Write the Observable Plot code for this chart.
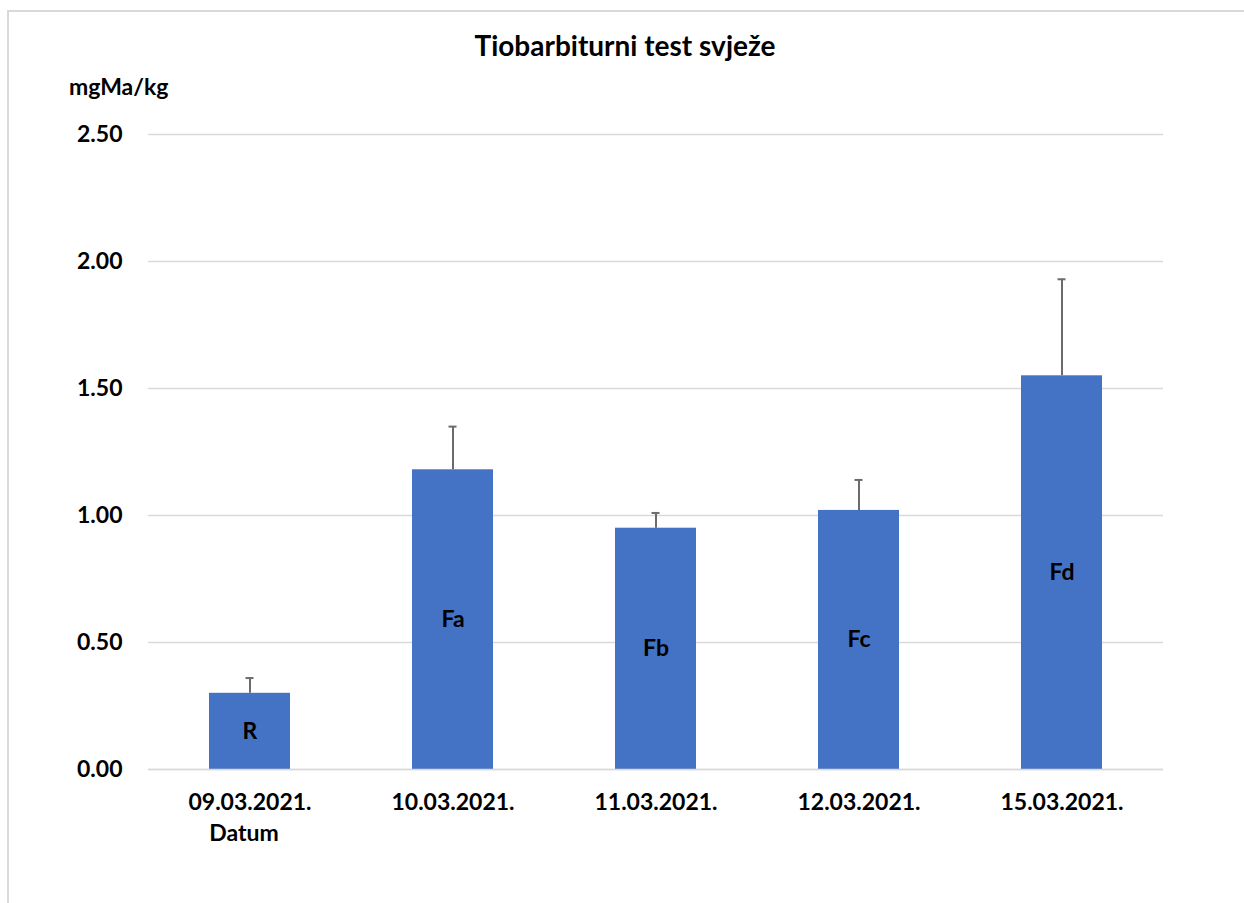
<!DOCTYPE html>
<html>
<head>
<meta charset="utf-8">
<script src="https://cdn.jsdelivr.net/npm/d3@7"></script>
<script src="https://cdn.jsdelivr.net/npm/@observablehq/plot@0.6"></script>
<style>
  html, body { margin: 0; padding: 0; background: #fff; }
  body { width: 1244px; height: 903px; overflow: hidden; font-family: Lato, "Open Sans", sans-serif; }
  #wrap { position: relative; width: 1244px; height: 903px; }
  #frame { position: absolute; left: 7px; top: 10px; width: 1300px; height: 1000px; border-left: 2px solid #d9d9d9; border-top: 2px solid #d9d9d9; }
  #chart { position: absolute; left: 0; top: 0; }
  .lbl { position: absolute; font-weight: bold; color: #000; white-space: nowrap; line-height: 1; }
  #title { left: 0; width: 1250px; top: 31px; text-align: center; font-size: 28px; }
  #ylab { left: 69px; top: 75px; font-size: 23px; }
  #xlab { left: 244px; top: 821px; transform: translateX(-50%); font-size: 23px; }
</style>
</head>
<body>
<div id="wrap">
  <div id="frame"></div>
  <div id="chart"></div>
  <div class="lbl" id="title">Tiobarbiturni test svježe</div>
  <div class="lbl" id="ylab">mgMa/kg</div>
  <div class="lbl" id="xlab">Datum</div>
</div>
<script>
const dates = ["09.03.2021.", "10.03.2021.", "11.03.2021.", "12.03.2021.", "15.03.2021."];
const groups = ["R", "Fa", "Fb", "Fc", "Fd"];
const values = [0.30, 1.18, 0.95, 1.02, 1.55];
const errors = [0.06, 0.17, 0.06, 0.12, 0.38];
const yTicks = [0, 0.5, 1.0, 1.5, 2.0, 2.5];

const data = dates.map((d, i) => ({date: d, group: groups[i], value: values[i], err: errors[i]}));

const plot = Plot.plot({
  width: 1244,
  height: 903,
  marginLeft: 148,
  marginRight: 81,
  marginTop: 134,
  marginBottom: 134,
  style: {fontFamily: "Lato, 'Open Sans', sans-serif", fontWeight: "bold", color: "#000", background: "transparent"},
  x: {domain: dates, paddingInner: 0.6, paddingOuter: 0.3, label: null},
  y: {domain: [0, 2.5], label: null},
  marks: [
    Plot.gridY(yTicks, {stroke: "#d9d9d9", strokeOpacity: 1, strokeWidth: 1.5}),
    Plot.barY(data, {x: "date", y: "value", fill: "#4472c4"}),
    Plot.ruleY([0], {stroke: "#d9d9d9", strokeWidth: 1.5}),
    Plot.ruleX(data, {x: "date", y1: "value", y2: d => d.value + d.err, stroke: "#6b6b6b", strokeWidth: 2}),
    Plot.tickY(data, {x: "date", y: d => d.value + d.err, stroke: "#6b6b6b", strokeWidth: 2, insetLeft: 36.5, insetRight: 36.5}),
    Plot.text(data, {x: "date", y: d => d.value / 2, text: "group", fontSize: 23, fontWeight: "bold", fill: "#000"}),
    Plot.axisY({ticks: yTicks, tickFormat: d => d.toFixed(2), tickSize: 0, tickPadding: 26, fontSize: 23, fontWeight: "bold", label: null}),
    Plot.axisX({tickSize: 0, tickPadding: 24, fontSize: 23, fontWeight: "bold", label: null})
  ]
});
document.getElementById("chart").appendChild(plot);
</script>
</body>
</html>
